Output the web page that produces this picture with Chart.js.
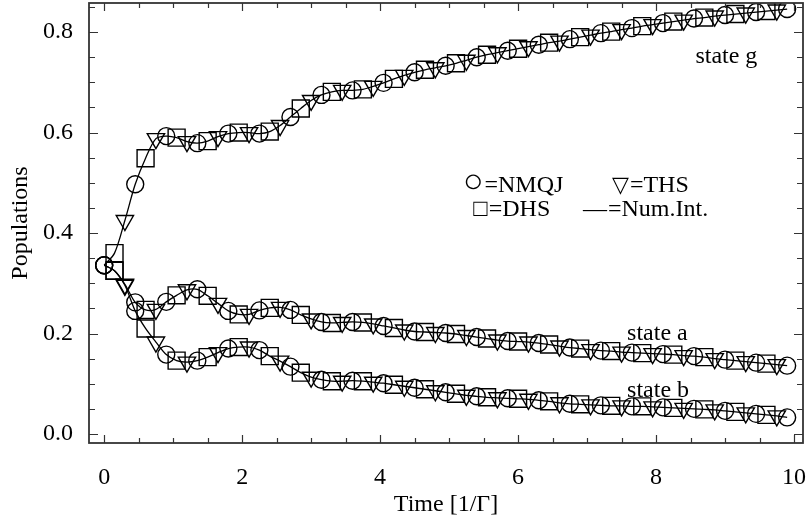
<!DOCTYPE html>
<html>
<head>
<meta charset="utf-8">
<script src="https://cdn.jsdelivr.net/npm/chart.js@4"></script>
<style>
  html, body { margin: 0; padding: 0; background: #fff; }
  #wrap { width: 809px; height: 524px; }
</style>
</head>
<body>
<div id="wrap"><canvas id="chart" width="809" height="524"></canvas></div>
<script>
// time grid of the plotted points [1/Gamma]
const times = [
  0, 0.15, 0.3, 0.45, 0.6, 0.75, 0.9, 1.05, 1.2, 1.35,
  1.5, 1.65, 1.8, 1.95, 2.1, 2.25, 2.4, 2.55, 2.7, 2.85,
  3, 3.15, 3.3, 3.45, 3.6, 3.75, 3.9, 4.05, 4.2, 4.35,
  4.5, 4.65, 4.8, 4.95, 5.1, 5.25, 5.4, 5.55, 5.7, 5.85,
  6, 6.15, 6.3, 6.45, 6.6, 6.75, 6.9, 7.05, 7.2, 7.35,
  7.5, 7.65, 7.8, 7.95, 8.1, 8.25, 8.4, 8.55, 8.7, 8.85,
  9, 9.15, 9.3, 9.45, 9.6, 9.75, 9.9
];

const stateG = [
  0.336, 0.360, 0.425, 0.497, 0.549, 0.588, 0.593, 0.590, 0.582, 0.579,
  0.583, 0.592, 0.598, 0.600, 0.600, 0.598, 0.602, 0.614, 0.631, 0.648,
  0.664, 0.675, 0.681, 0.684, 0.684, 0.686, 0.692, 0.699, 0.707, 0.714,
  0.720, 0.725, 0.729, 0.733, 0.738, 0.744, 0.750, 0.755, 0.759, 0.763,
  0.767, 0.771, 0.775, 0.779, 0.782, 0.786, 0.790, 0.794, 0.798, 0.801,
  0.805, 0.808, 0.812, 0.815, 0.818, 0.821, 0.824, 0.827, 0.829, 0.832,
  0.834, 0.836, 0.838, 0.840, 0.842, 0.844, 0.846
];

const stateA = [
  0.336, 0.325, 0.298, 0.262, 0.247, 0.248, 0.263, 0.276, 0.287, 0.288,
  0.275, 0.260, 0.245, 0.238, 0.238, 0.246, 0.251, 0.252, 0.247, 0.237,
  0.229, 0.223, 0.221, 0.222, 0.223, 0.222, 0.219, 0.215, 0.211, 0.207,
  0.204, 0.203, 0.202, 0.201, 0.199, 0.196, 0.193, 0.190, 0.187, 0.185,
  0.184, 0.183, 0.181, 0.178, 0.175, 0.172, 0.170, 0.168, 0.166, 0.165,
  0.163, 0.162, 0.161, 0.160, 0.159, 0.158, 0.156, 0.155, 0.153, 0.150,
  0.148, 0.146, 0.144, 0.142, 0.140, 0.138, 0.136
];

const stateB = [
  0.336, 0.325, 0.296, 0.245, 0.210, 0.183, 0.158, 0.146, 0.143, 0.146,
  0.153, 0.162, 0.170, 0.173, 0.173, 0.167, 0.155, 0.145, 0.134, 0.122,
  0.113, 0.108, 0.105, 0.105, 0.106, 0.105, 0.103, 0.101, 0.098, 0.095,
  0.092, 0.089, 0.086, 0.083, 0.080, 0.077, 0.075, 0.073, 0.072, 0.071,
  0.070, 0.069, 0.067, 0.065, 0.062, 0.060, 0.059, 0.058, 0.057, 0.056,
  0.056, 0.055, 0.055, 0.054, 0.053, 0.052, 0.051, 0.050, 0.049, 0.048,
  0.046, 0.044, 0.042, 0.040, 0.038, 0.036, 0.033
];

const xTicks = [0, 2, 4, 6, 8, 10];
const yTicks = [0, 0.2, 0.4, 0.6, 0.8];

// curve labels in data coordinates: [text, x, y]
const notes = [
  ["state g", 8.57, 0.738],
  ["state a", 7.58, 0.187],
  ["state b", 7.58, 0.074]
];

// key text: [symbol, symbol font size, text, x, y]
const keyItems = [
  ["\u25CB", 34, "=NMQJ", 5.2, 0.482],
  ["\u25BD", 22, "=THS", 7.36, 0.482],
  ["\u25A1", 24, "=DHS", 5.35, 0.434],
  ["\u2014", 24, "=Num.Int.", 6.94, 0.434]
];

const FONT = "'Liberation Serif', 'Times New Roman', serif";
Chart.defaults.font.family = FONT;
Chart.defaults.font.size = 24;
Chart.defaults.color = "#000";

const allStates = [stateG, stateA, stateB];

// methods alternate along the time grid: circle, square, triangle
function pick(offset) {
  const pts = [];
  allStates.forEach(s => {
    for (let i = offset; i < times.length; i += 3) {
      pts.push({x: times[i], y: s[i]});
    }
  });
  return pts;
}

function line(s) {
  return {
    type: "line",
    data: times.map((t, i) => ({x: t, y: s[i]})),
    borderColor: "#000",
    borderWidth: 1.3,
    pointRadius: 0,
    tension: 0.3,
    fill: false
  };
}

function markers(offset, style, radius, rotation) {
  return {
    type: "scatter",
    data: pick(offset),
    showLine: false,
    pointStyle: style,
    pointRadius: radius,
    pointRotation: rotation,
    pointBorderColor: "#000",
    pointBackgroundColor: "rgba(0,0,0,0)",
    pointBorderWidth: 1.4,
    borderColor: "#000",
    backgroundColor: "rgba(0,0,0,0)"
  };
}

const frame = {
  id: "frame",
  afterDraw(chart) {
    const {ctx, chartArea: a, scales: {x, y}} = chart;
    ctx.save();
    ctx.strokeStyle = "#333";
    ctx.lineWidth = 1.2;
    ctx.beginPath();
    for (let v = 0; v <= 10.001; v += 0.5) {
      const px = Math.round(x.getPixelForValue(v)) + 0.5;
      const len = Math.abs(v % 2) < 1e-6 ? 8 : 5;
      ctx.moveTo(px, a.bottom); ctx.lineTo(px, a.bottom - len);
      ctx.moveTo(px, a.top); ctx.lineTo(px, a.top + len);
    }
    for (let k = 0; k <= 17; k++) {
      const v = k * 0.05;
      const py = Math.round(y.getPixelForValue(v)) + 0.5;
      const len = k % 4 === 0 ? 9 : 6;
      ctx.moveTo(a.left, py); ctx.lineTo(a.left + len, py);
      ctx.moveTo(a.right, py); ctx.lineTo(a.right - len, py);
    }
    ctx.stroke();
    ctx.lineWidth = 1.8;
    ctx.strokeRect(a.left, a.top, a.right - a.left, a.bottom - a.top);

    ctx.fillStyle = "#000";
    ctx.textBaseline = "alphabetic";
    ctx.textAlign = "left";
    ctx.font = "24px " + FONT;
    notes.forEach(([t, vx, vy]) => {
      ctx.fillText(t, x.getPixelForValue(vx), y.getPixelForValue(vy));
    });
    keyItems.forEach(([sym, size, t, vx, vy]) => {
      const px = x.getPixelForValue(vx);
      const py = y.getPixelForValue(vy);
      ctx.font = size + "px " + FONT;
      ctx.fillText(sym, px, py);
      const w = ctx.measureText(sym).width;
      ctx.font = "24px " + FONT;
      ctx.fillText(t, px + w + 1, py);
    });
    ctx.restore();
  }
};

new Chart(document.getElementById("chart"), {
  data: {
    datasets: [
      line(stateG), line(stateA), line(stateB),
      markers(0, "circle", 8.5, 0),
      markers(1, "rect", 12, 0),
      markers(2, "triangle", 10, 180)
    ]
  },
  options: {
    responsive: false,
    animation: false,
    layout: { autoPadding: false, padding: { left: 0, right: 6, top: 3, bottom: 0 } },
    plugins: { legend: { display: false }, tooltip: { enabled: false } },
    scales: {
      x: {
        type: "linear",
        min: -0.22,
        max: 10.13,
        grid: { display: false },
        border: { display: false },
        afterBuildTicks: s => { s.ticks = xTicks.map(v => ({value: v})); },
        afterFit: s => { s.height = 81; s.paddingLeft = 0; s.paddingRight = 0; },
        ticks: { padding: 12, maxRotation: 0, font: { size: 24 }, callback: v => String(v) },
        title: { display: true, text: "Time [1/\u0393]", font: { size: 24 }, padding: { top: 0, bottom: 5 } }
      },
      y: {
        type: "linear",
        min: -0.018,
        max: 0.858,
        grid: { display: false },
        border: { display: false },
        afterBuildTicks: s => { s.ticks = yTicks.map(v => ({value: v})); },
        afterFit: s => { s.width = 89; s.paddingTop = 0; s.paddingBottom = 0; },
        ticks: { padding: 8, font: { size: 24 }, callback: v => v.toFixed(1) },
        title: { display: true, text: "Populations", font: { size: 24 }, padding: { top: 6, bottom: 0 } }
      }
    }
  },
  plugins: [frame]
});
</script>
</body>
</html>
